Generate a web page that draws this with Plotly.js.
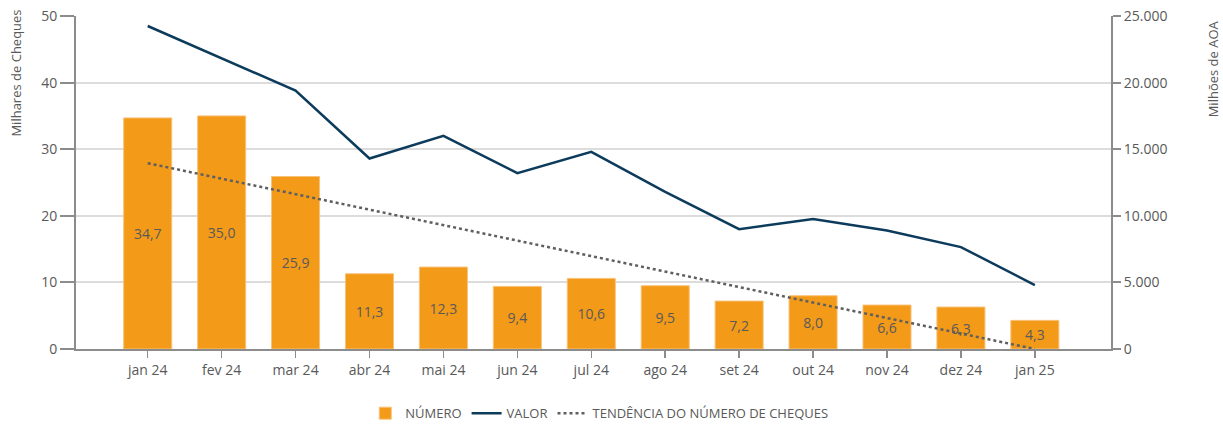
<!DOCTYPE html>
<html>
<head>
<meta charset="utf-8">
<script src="https://cdn.plot.ly/plotly-3.0.1.min.js"></script>
<style>html,body{margin:0;padding:0;background:#fff;}#chart{width:1223px;height:426px;}</style>
</head>
<body>
<div id="chart"></div>
<script>
const months = ['jan 24','fev 24','mar 24','abr 24','mai 24','jun 24','jul 24','ago 24','set 24','out 24','nov 24','dez 24','jan 25'];
const numero = [34.7, 35.0, 25.9, 11.3, 12.3, 9.4, 10.6, 9.5, 7.2, 8.0, 6.6, 6.3, 4.3];
const valor = [24250, 21800, 19400, 14300, 16000, 13200, 14800, 11800, 9000, 9750, 8900, 7650, 4800];
const trendMonths = ['jan 24', 'jan 25'];
const trendValues = [27.9, 0.0];
const leftTitle = 'Milhares de Cheques';
const rightTitle = 'Milhões de AOA';

const gray = '#595959';
const axisGray = '#8c8c8c';
const font = "'Open Sans', 'Noto Sans', sans-serif";

const traces = [
  {
    type: 'bar', x: months, y: numero, name: 'NÚMERO',
    marker: {color: '#F39A19', line: {color: '#F8C27A', width: 1}},
    width: 0.65,
    texttemplate: '%{y:.1f}', textposition: 'inside', insidetextanchor: 'middle',
    textfont: {color: gray, size: 14, family: font},
    hoverinfo: 'skip'
  },
  {
    type: 'scatter', mode: 'lines', x: months, y: valor, name: 'VALOR', yaxis: 'y2',
    line: {color: '#0D3B5C', width: 2.5}
  },
  {
    type: 'scatter', mode: 'lines', x: trendMonths, y: trendValues, name: 'TENDÊNCIA DO NÚMERO DE CHEQUES',
    line: {color: '#5f5f5f', width: 2.5, dash: 'dot'}
  }
];

const layout = {
  width: 1223, height: 426,
  margin: {l: 76, r: 112, t: 16, b: 77, autoexpand: false},
  paper_bgcolor: '#fff', plot_bgcolor: '#fff',
  separators: ',.',
  font: {family: font, color: gray, size: 14},
  showlegend: true,
  legend: {orientation: 'h', x: 0.49, xanchor: 'center', xref: 'container',
           y: 0.03, yanchor: 'middle', yref: 'container',
           font: {size: 13, color: gray, family: font}, traceorder: 'normal', itemwidth: 30},
  xaxis: {
    type: 'category', range: [-0.97, 13.03],
    showline: true, linecolor: axisGray, linewidth: 2,
    ticks: 'outside', ticklen: 7, tickwidth: 1.5, tickcolor: axisGray,
    tickfont: {size: 14, color: gray}, showgrid: false, zeroline: false, fixedrange: true
  },
  yaxis: {
    range: [0, 50], dtick: 10,
    showline: true, linecolor: axisGray, linewidth: 2,
    ticks: 'outside', ticklen: 14, tickwidth: 2, tickcolor: axisGray,
    showgrid: true, gridcolor: '#dcdcdc', gridwidth: 2, zeroline: false,
    tickfont: {size: 14, color: gray}
  },
  yaxis2: {
    overlaying: 'y', side: 'right', range: [0, 25000], dtick: 5000, tickformat: ',d',
    showline: true, linecolor: axisGray, linewidth: 2,
    ticks: 'outside', ticklen: 8, tickwidth: 2, tickcolor: axisGray,
    showgrid: false, zeroline: false,
    tickfont: {size: 14, color: gray}
  },
  annotations: [
    {text: leftTitle, xref: 'paper', yref: 'paper', x: -0.058, y: 0.83, xanchor: 'center', yanchor: 'middle',
     textangle: -90, showarrow: false, font: {size: 13, color: gray, family: font}},
    {text: rightTitle, xref: 'paper', yref: 'paper', x: 1.0986, y: 0.84, xanchor: 'center', yanchor: 'middle',
     textangle: -90, showarrow: false, font: {size: 13, color: gray, family: font}}
  ],
  bargap: 0.35
};

Plotly.newPlot('chart', traces, layout, {displayModeBar: false, staticPlot: true});
</script>
</body>
</html>
